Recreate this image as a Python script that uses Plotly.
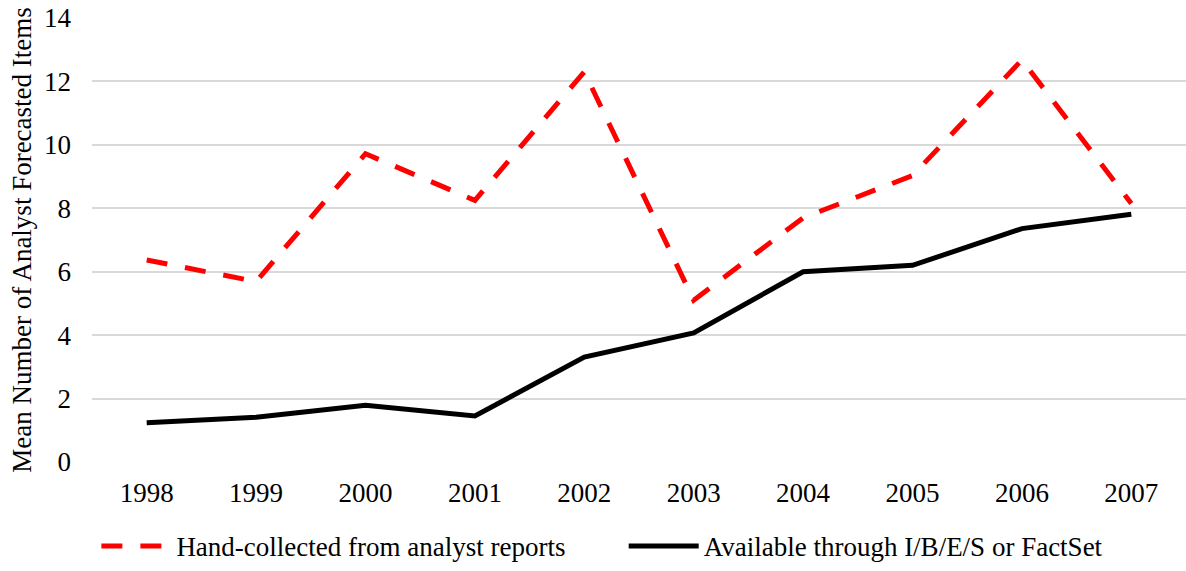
import plotly.graph_objects as go

years = ["1998", "1999", "2000", "2001", "2002", "2003", "2004", "2005", "2006", "2007"]
hand_collected = [6.37, 5.69, 9.72, 8.25, 12.3, 5.1, 7.7, 9.03, 12.68, 8.15]
ibes_factset = [1.24, 1.41, 1.79, 1.45, 3.31, 4.07, 6.0, 6.2, 7.36, 7.81]
y_ticks = [0, 2, 4, 6, 8, 10, 12, 14]

FONT = "Liberation Serif"
FS = 27

fig = go.Figure()
fig.add_trace(go.Scatter(
    x=years, y=hand_collected, mode="lines",
    name="Hand-collected from analyst reports",
    line=dict(color="#ff0000", width=5, dash="21px,18px"),
    legend="legend",
))
fig.add_trace(go.Scatter(
    x=years, y=ibes_factset, mode="lines",
    name="Available through I/B/E/S or FactSet",
    line=dict(color="#000000", width=5),
    legend="legend2",
))

leg_common = dict(
    orientation="h", yanchor="middle", y=-0.19, xanchor="left",
    font=dict(family=FONT, size=FS, color="black"),
    itemwidth=70, bgcolor="rgba(0,0,0,0)",
)

fig.update_layout(
    width=1186, height=571,
    margin=dict(l=92, r=0, t=18, b=106),
    paper_bgcolor="white", plot_bgcolor="white",
    font=dict(family=FONT, size=FS, color="black"),
    showlegend=True,
    legend=dict(x=0.004, **leg_common),
    legend2=dict(x=0.486, **leg_common),
    xaxis=dict(
        type="category", range=[-0.5, 9.5], showgrid=False, showline=False,
        zeroline=False, ticks="", tickfont=dict(family=FONT, size=FS),
        ticklabelstandoff=12,
    ),
    yaxis=dict(
        range=[0, 14], tickvals=y_ticks, showgrid=True, gridcolor="#d9d9d9",
        gridwidth=1.5, zeroline=False, showline=False, ticks="",
        tickfont=dict(family=FONT, size=FS), ticklabelstandoff=20,
        title=dict(text="Mean Number of Analyst Forecasted Items",
                   font=dict(family=FONT, size=FS), standoff=4),
    ),
)

fig.write_html("out.html", config={"displayModeBar": False},
               post_script="document.body.style.margin='0px';")
